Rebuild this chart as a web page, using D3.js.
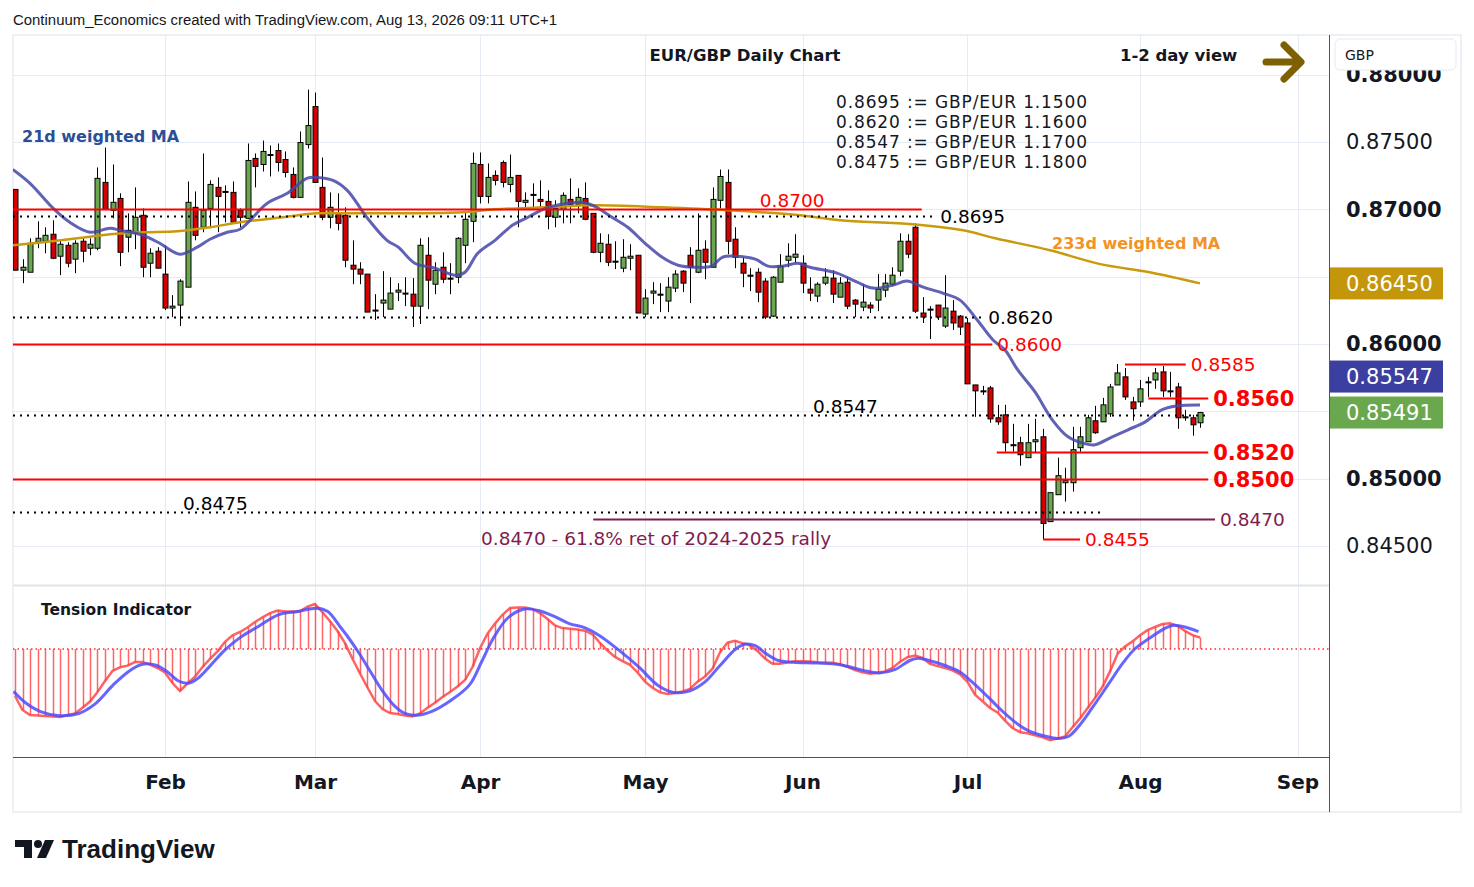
<!DOCTYPE html>
<html>
<head>
<meta charset="utf-8">
<script src="https://cdn.jsdelivr.net/npm/d3@7"></script>
<style>
  html, body { margin: 0; padding: 0; background: #fff; }
  svg { display: block; font-family: "DejaVu Sans", sans-serif; }
</style>
</head>
<body>
<svg id="chart" width="1474" height="887"></svg>
<script>
// EUR/GBP daily bars, one row per trading day from early Jan to Aug 13 - [open, high, low, close]
const ohlc = [
  [0.87148,0.87148,0.86548,0.86548],[0.86548,0.86630,0.86452,0.86570],[0.86533,0.86785,0.86533,0.86748],
  [0.86756,0.86911,0.86711,0.86785],[0.86763,0.86867,0.86674,0.86807],[0.86815,0.86919,0.86630,0.86637],
  [0.86652,0.86770,0.86511,0.86741],[0.86733,0.86756,0.86570,0.86600],[0.86630,0.86770,0.86526,0.86748],
  [0.86763,0.86793,0.86607,0.86689],[0.86711,0.86785,0.86659,0.86741],[0.86711,0.87311,0.86696,0.87230],
  [0.87200,0.87459,0.87000,0.87000],[0.86993,0.87333,0.86933,0.87052],[0.87081,0.87119,0.86578,0.86681],
  [0.86793,0.86970,0.86681,0.86844],[0.86822,0.87163,0.86704,0.86941],[0.86956,0.87007,0.86496,0.86570],
  [0.86600,0.86711,0.86496,0.86674],[0.86689,0.86719,0.86563,0.86563],[0.86519,0.86733,0.86252,0.86267],
  [0.86267,0.86363,0.86200,0.86281],[0.86289,0.86481,0.86133,0.86467],[0.86422,0.87207,0.86422,0.87052],
  [0.87015,0.87133,0.86770,0.86807],[0.86867,0.87415,0.86830,0.86993],[0.87007,0.87215,0.86867,0.87185],
  [0.87163,0.87237,0.86830,0.87096],[0.87133,0.87178,0.86904,0.87133],[0.87126,0.87207,0.86904,0.86904],
  [0.86993,0.87007,0.86867,0.86941],[0.86933,0.87489,0.86933,0.87363],[0.87378,0.87415,0.87163,0.87319],
  [0.87333,0.87511,0.87281,0.87430],[0.87407,0.87474,0.87244,0.87407],[0.87437,0.87489,0.87281,0.87348],
  [0.87370,0.87430,0.87237,0.87274],[0.87259,0.87311,0.87081,0.87089],[0.87089,0.87578,0.87089,0.87496],
  [0.87481,0.87889,0.87452,0.87622],[0.87763,0.87867,0.87200,0.87200],[0.87163,0.87385,0.86919,0.86941],
  [0.86941,0.87126,0.86859,0.87015],[0.86970,0.87119,0.86844,0.86896],[0.86956,0.87015,0.86570,0.86622],
  [0.86585,0.86770,0.86444,0.86556],[0.86556,0.86607,0.86444,0.86519],[0.86519,0.86519,0.86237,0.86237],
  [0.86252,0.86370,0.86178,0.86252],[0.86304,0.86541,0.86200,0.86326],[0.86259,0.86496,0.86259,0.86378],
  [0.86385,0.86452,0.86319,0.86400],[0.86378,0.86496,0.86281,0.86378],[0.86370,0.86489,0.86126,0.86281],
  [0.86281,0.86785,0.86148,0.86733],[0.86659,0.86793,0.86259,0.86474],[0.86444,0.86607,0.86370,0.86548],
  [0.86570,0.86681,0.86452,0.86481],[0.86489,0.86600,0.86370,0.86489],[0.86496,0.86793,0.86452,0.86785],
  [0.86733,0.86978,0.86600,0.86926],[0.86911,0.87422,0.86756,0.87341],[0.87333,0.87422,0.87044,0.87096],
  [0.87096,0.87341,0.87044,0.87237],[0.87252,0.87289,0.87178,0.87215],[0.87348,0.87363,0.87163,0.87200],
  [0.87185,0.87407,0.87126,0.87237],[0.87252,0.87252,0.86867,0.87059],[0.87052,0.87126,0.87015,0.87067],
  [0.87111,0.87193,0.87015,0.87111],[0.87074,0.87215,0.87015,0.87059],[0.87059,0.87141,0.86852,0.86948],
  [0.86941,0.87067,0.86867,0.87007],[0.87000,0.87126,0.86896,0.87104],[0.87074,0.87230,0.86896,0.87037],
  [0.87037,0.87156,0.86970,0.87089],[0.87081,0.87200,0.86919,0.86926],[0.86970,0.86970,0.86674,0.86681],
  [0.86681,0.86822,0.86607,0.86748],[0.86741,0.86815,0.86578,0.86607],[0.86615,0.86763,0.86556,0.86615],
  [0.86563,0.86778,0.86533,0.86644],[0.86637,0.86741,0.86548,0.86652],[0.86659,0.86659,0.86230,0.86230],
  [0.86222,0.86407,0.86200,0.86341],[0.86378,0.86459,0.86296,0.86393],[0.86370,0.86452,0.86237,0.86370],
  [0.86319,0.86496,0.86237,0.86422],[0.86415,0.86548,0.86385,0.86519],[0.86541,0.86548,0.86385,0.86452],
  [0.86659,0.86719,0.86304,0.86570],[0.86533,0.86970,0.86526,0.86696],[0.86704,0.86770,0.86481,0.86607],
  [0.86570,0.87163,0.86570,0.87074],[0.87067,0.87296,0.87007,0.87244],[0.87200,0.87296,0.86667,0.86763],
  [0.86778,0.86867,0.86563,0.86644],[0.86600,0.86644,0.86422,0.86526],[0.86511,0.86563,0.86393,0.86511],
  [0.86533,0.86563,0.86311,0.86385],[0.86467,0.86489,0.86185,0.86200],[0.86207,0.86504,0.86200,0.86496],
  [0.86459,0.86667,0.86459,0.86578],[0.86622,0.86748,0.86570,0.86652],[0.86644,0.86815,0.86600,0.86667],
  [0.86600,0.86659,0.86378,0.86452],[0.86407,0.86496,0.86319,0.86378],[0.86356,0.86459,0.86311,0.86444],
  [0.86452,0.86563,0.86437,0.86496],[0.86489,0.86548,0.86304,0.86370],[0.86348,0.86496,0.86348,0.86452],
  [0.86459,0.86496,0.86259,0.86281],[0.86326,0.86333,0.86200,0.86296],[0.86274,0.86444,0.86244,0.86311],
  [0.86289,0.86311,0.86230,0.86267],[0.86326,0.86519,0.86244,0.86407],[0.86400,0.86519,0.86348,0.86452],
  [0.86444,0.86570,0.86430,0.86511],[0.86541,0.86822,0.86504,0.86763],[0.86763,0.86815,0.86637,0.86667],
  [0.86867,0.86896,0.86230,0.86244],[0.86230,0.86348,0.86156,0.86200],[0.86259,0.86281,0.86037,0.86259],
  [0.86289,0.86289,0.86178,0.86200],[0.86133,0.86511,0.86119,0.86267],[0.86244,0.86326,0.86104,0.86156],
  [0.86207,0.86215,0.86067,0.86126],[0.86156,0.86193,0.85704,0.85704],[0.85696,0.85696,0.85459,0.85652],
  [0.85652,0.85689,0.85622,0.85652],[0.85674,0.85689,0.85415,0.85444],[0.85452,0.85548,0.85400,0.85422],
  [0.85474,0.85548,0.85200,0.85267],[0.85252,0.85407,0.85200,0.85252],[0.85267,0.85311,0.85096,0.85178],
  [0.85156,0.85407,0.85156,0.85267],[0.85274,0.85444,0.85193,0.85289],[0.85311,0.85370,0.84548,0.84667],
  [0.84681,0.84896,0.84681,0.84896],[0.84881,0.85156,0.84881,0.85022],[0.84970,0.85081,0.84830,0.84985],
  [0.84970,0.85385,0.84904,0.85215],[0.85230,0.85385,0.85200,0.85311],[0.85274,0.85474,0.85274,0.85452],
  [0.85430,0.85541,0.85333,0.85341],[0.85422,0.85600,0.85422,0.85548],[0.85481,0.85704,0.85459,0.85681],
  [0.85696,0.85852,0.85696,0.85785],[0.85756,0.85822,0.85585,0.85607],[0.85570,0.85607,0.85430,0.85519],
  [0.85570,0.85733,0.85533,0.85667],[0.85719,0.85756,0.85607,0.85719],[0.85733,0.85822,0.85667,0.85785],
  [0.85793,0.85837,0.85607,0.85652],[0.85652,0.85793,0.85607,0.85652],[0.85681,0.85711,0.85370,0.85452],
  [0.85459,0.85511,0.85430,0.85452],[0.85452,0.85474,0.85319,0.85400],[0.85415,0.85496,0.85378,0.85491]
];

// month ticks on the time axis (bar index of first trading day)
const monthTicks = [20, 40, 62, 84, 105, 127, 150, 171];
const monthLabels = ['Feb', 'Mar', 'Apr', 'May', 'Jun', 'Jul', 'Aug', 'Sep'];

// price axis
const priceGrid = [0.845, 0.850, 0.855, 0.860, 0.865, 0.870, 0.875, 0.880];
const priceTicks = [0.845, 0.850, 0.860, 0.870, 0.875, 0.880];

// moving averages - [bar index, price]
const ma21 = [
  [-0.3,0.87296],[2,0.87193],[5.1,0.87007],[7.3,0.86904],[10,0.86830],[12.7,0.86859],[14,0.86844],
  [17.1,0.86807],[19.3,0.86748],[22,0.86667],[24.3,0.86719],[26,0.86778],[28.3,0.86830],[30,0.86852],
  [33.6,0.87044],[36.3,0.87119],[38.9,0.87230],[40.3,0.87237],[42.4,0.87215],[44.3,0.87141],[46.9,0.86941],
  [49.6,0.86770],[51.1,0.86719],[53.3,0.86600],[56,0.86563],[58.7,0.86511],[60,0.86533],[61.7,0.86674],
  [64,0.86770],[66.3,0.86881],[68.4,0.86941],[70.7,0.87007],[72.9,0.87037],[75.6,0.87052],[77.3,0.87022],
  [79.6,0.86941],[81.7,0.86867],[84,0.86748],[86.3,0.86644],[88.4,0.86585],[90.7,0.86570],[92.9,0.86578],
  [94.3,0.86644],[96,0.86652],[98.7,0.86630],[100.4,0.86578],[102.3,0.86578],[104.4,0.86600],[106,0.86570],
  [109.6,0.86526],[112.3,0.86459],[114.4,0.86415],[117.1,0.86437],[118.9,0.86467],[121.1,0.86422],
  [123.7,0.86378],[126,0.86326],[128.3,0.86178],[130.4,0.86030],[132,0.85956],[133.7,0.85807],[136,0.85644],
  [138.3,0.85437],[140.4,0.85311],[142.7,0.85259],[144,0.85252],[146.3,0.85311],[148.4,0.85363],
  [150.7,0.85422],[152.9,0.85511],[155.1,0.85541],[158,0.85547]
];
const ma233 = [
  [-0.3,0.86733],[3.7,0.86756],[8.3,0.86785],[12.7,0.86815],[17.1,0.86830],[21.6,0.86837],[26,0.86867],
  [30,0.86904],[35.7,0.86941],[40.3,0.86970],[44.7,0.86970],[51.3,0.86970],[59.6,0.86978],[64,0.87000],
  [70.7,0.87015],[77.3,0.87030],[86.3,0.87015],[95.1,0.86993],[104.7,0.86956],[110,0.86919],[119.7,0.86889],
  [126.4,0.86844],[130.7,0.86785],[138,0.86696],[144.7,0.86593],[151.3,0.86533],[158,0.86450]
];

// tension indicator, one value per bar
const tension = [
  -47,-61,-66,-66.5,-67,-67.5,-68,-66,-64.5,-58.7,-52.5,-43,-32,-22,-18.3,-16.6,-13,-13,-15.6,-19,
  -23.5,-34,-42,-34.5,-27.7,-18,-9.8,-2.3,7.2,13.7,17,21.5,27,31.6,35.9,38.5,37.5,37.5,37.8,42.4,
  45,36.8,27.7,18,5.9,-9.8,-24.5,-38.5,-52,-60,-64,-65,-66.5,-67.5,-64.5,-58.7,-53.8,-48,-43,-37.5,
  -31,-18,0.7,15.3,25.4,34.2,41,41.4,41.4,40,35.9,30,23.5,20.9,20.2,19.6,18.3,14.7,6,-1.6,
  -7.9,-12.2,-15.8,-23.4,-32.6,-38.8,-43.4,-45,-44,-42.4,-40,-32.6,-27.6,-19.7,-3.3,6.3,8.2,5.9,3.6,-2,
  -9.5,-14.8,-14.8,-13.5,-12.2,-12.2,-12.5,-13.2,-13.5,-13.8,-15.1,-17.8,-21,-23.4,-24.7,-23.7,-22.4,-19,-12.8,-8.2,
  -6.6,-8.9,-14.8,-17.1,-19,-21.4,-25.3,-32.9,-45.7,-52.3,-59,-63.5,-71.7,-79,-83.2,-84.2,-86.2,-88.2,-91.1,-89.5,
  -87.5,-78.3,-69.4,-59.2,-49,-37.8,-22.4,-4.9,2.6,7.6,13.8,18.8,22,25,25.7,23,18.1,13.8,11.5
];
// signal line - [bar index, value]
const signal = [
  [-0.2,-42.4],[1.4,-53.8],[3.4,-62.6],[6,-66.8],[8.5,-64.5],[10.6,-55.4],[13.1,-35.9],[15.2,-22.2],
  [17,-15.3],[18.8,-16.3],[20.3,-22.8],[21.8,-32],[23.1,-34.2],[24.4,-29.3],[25.9,-17.9],[27.9,-1.6],
  [30,11.4],[32.5,22.8],[35.1,34.2],[37.7,37.5],[40.2,40.8],[41.7,37.5],[43.3,22.8],[44.3,13],[45.8,-3.3],
  [47.4,-22.8],[48.9,-40.8],[50.4,-55.4],[51.9,-64.2],[53.5,-66.2],[55.5,-62.6],[58.1,-51.5],[60.6,-35.9],
  [62.2,-13],[63.7,9.8],[65.7,31],[67.8,39.8],[69.8,38.5],[71.9,32.6],[73.9,25.4],[76,21.2],[78,13.1],
  [80.6,-1.6],[83.2,-18.1],[85.7,-36.2],[87.8,-43.4],[89.9,-42.1],[92,-32.9],[94,-16.5],[96.1,0],[97.4,4.9],
  [98.7,3.3],[100.2,-4.9],[101.8,-11.5],[103.8,-13.2],[106.9,-14.1],[110,-15.8],[113.1,-21.4],[115.2,-24],
  [117.3,-20.7],[119.3,-11.5],[120.4,-9.2],[121.9,-11.5],[124,-16.5],[126,-23],[127.6,-32.9],[129.7,-47.7],
  [131.7,-62.5],[133.8,-75.7],[135.3,-82.3],[137.4,-87.2],[139,-89.5],[140.5,-87.2],[142,-75.7],[143.6,-59.2],
  [145.7,-36.2],[147.8,-13.2],[149.3,0],[151.4,11.5],[153.5,21.4],[154.5,23.7],[156,22],[157.8,17.4]
];

// horizontal levels drawn on the chart, with the bar range each line covers
const levelValues = [0.8700, 0.8695, 0.8620, 0.8600, 0.8585, 0.8560, 0.8547, 0.8520, 0.8500, 0.8475, 0.8470, 0.8455];
const levelFrom   = [-1, -1, -1, -1, 148, 151.1, -1, 130.9, -1, -1, 77.1, 137.1];
const levelTo     = [120.9, 122.7, 129.1, 130.3, 156.1, 159.1, 159.3, 159.1, 159.1, 145.3, 160, 142];

const conversions = [
  '0.8695 := GBP/EUR 1.1500',
  '0.8620 := GBP/EUR 1.1600',
  '0.8547 := GBP/EUR 1.1700',
  '0.8475 := GBP/EUR 1.1800'
];

// ---- layout
const plot = { left: 13, right: 1329, top: 35, mainBottom: 585, indTop: 586, indBottom: 757, axisBottom: 812, outerRight: 1461 };

const svg = d3.select('#chart');

const x = d3.scaleLinear().domain([0, 158]).range([15, 1200]);
const y = d3.scaleLinear().domain([0.845, 0.875]).range([546, 142]);
const yInd = d3.scaleLinear().domain([-100, 60]).range([749, 589]);

const defs = svg.append('defs');
defs.append('clipPath').attr('id', 'clipMain').append('rect')
    .attr('x', plot.left).attr('y', plot.top)
    .attr('width', plot.right - plot.left).attr('height', plot.mainBottom - plot.top);
defs.append('clipPath').attr('id', 'clipInd').append('rect')
    .attr('x', plot.left).attr('y', plot.indTop)
    .attr('width', plot.right - plot.left).attr('height', plot.indBottom - plot.indTop);

// header line
svg.append('text')
    .attr('x', 13).attr('y', 25)
    .attr('font-family', '"Liberation Sans", sans-serif')
    .attr('font-size', 15.5).attr('fill', '#131722')
    .attr('textLength', 544).attr('lengthAdjust', 'spacingAndGlyphs')
    .text('Continuum_Economics created with TradingView.com, Aug 13, 2026 09:11 UTC+1');

// outer frame
svg.append('rect')
    .attr('x', plot.left).attr('y', plot.top)
    .attr('width', plot.outerRight - plot.left).attr('height', plot.axisBottom - plot.top)
    .attr('fill', 'none').attr('stroke', '#edf0f4').attr('stroke-width', 2);

// grid
const grid = svg.append('g');
grid.selectAll('.hgrid').data(priceGrid).enter().append('line')
    .attr('x1', plot.left).attr('x2', plot.right)
    .attr('y1', d => Math.round(y(d)) + 0.5).attr('y2', d => Math.round(y(d)) + 0.5)
    .attr('stroke', '#e6ecf3');
grid.selectAll('.vgrid').data(monthTicks).enter().append('line')
    .attr('x1', d => Math.round(x(d)) + 0.5).attr('x2', d => Math.round(x(d)) + 0.5)
    .attr('y1', plot.top).attr('y2', plot.indBottom)
    .attr('stroke', '#e6ecf3');

// pane separator
svg.append('line')
    .attr('x1', plot.left).attr('x2', plot.right)
    .attr('y1', plot.mainBottom + 0.5).attr('y2', plot.mainBottom + 0.5)
    .attr('stroke', '#e0e3eb').attr('stroke-width', 2);

// ---- candles
const main = svg.append('g').attr('clip-path', 'url(#clipMain)');
const candles = main.selectAll('.candle').data(ohlc).enter().append('g').attr('class', 'candle');

candles.append('line')
    .attr('x1', (d, i) => Math.round(x(i)) + 0.5).attr('x2', (d, i) => Math.round(x(i)) + 0.5)
    .attr('y1', d => y(d[1])).attr('y2', d => y(d[2]))
    .attr('stroke', '#000').attr('stroke-width', 1);

candles.append('rect')
    .attr('x', (d, i) => Math.round(x(i)) - 2)
    .attr('width', 5)
    .attr('y', d => y(Math.max(d[0], d[3])))
    .attr('height', d => Math.max(1, Math.abs(y(d[0]) - y(d[3]))))
    .attr('fill', d => d[3] > d[0] ? '#6aa84f' : d[3] < d[0] ? '#d50000' : '#000')
    .attr('stroke', '#000').attr('stroke-width', 1);

// ---- moving averages
const maLine = d3.line()
    .x(d => x(d[0])).y(d => y(d[1]))
    .curve(d3.curveCatmullRom.alpha(0.5));

main.append('path').datum(ma233).attr('d', maLine)
    .attr('fill', 'none').attr('stroke', '#c99a0c').attr('stroke-width', 2.5);
main.append('path').datum(ma21).attr('d', maLine)
    .attr('fill', 'none').attr('stroke', '#4545a8').attr('stroke-opacity', 0.85).attr('stroke-width', 3);

// ---- levels
const levelLook = [
  { stroke: '#ff0000', dash: null, text: '0.8700', fill: '#ff0000', size: 18.5, weight: 'normal', place: 'above', at: 99.3 },
  { stroke: '#000', dash: '2 5', text: '0.8695', fill: '#000', size: 18.5, weight: 'normal', place: 'end' },
  { stroke: '#000', dash: '2 5', text: '0.8620', fill: '#000', size: 18.5, weight: 'normal', place: 'end' },
  { stroke: '#ff0000', dash: null, text: '0.8600', fill: '#ff0000', size: 18.5, weight: 'normal', place: 'end' },
  { stroke: '#ff0000', dash: null, text: '0.8585', fill: '#ff0000', size: 18.5, weight: 'normal', place: 'end' },
  { stroke: '#ff0000', dash: null, text: '0.8560', fill: '#ff0000', size: 21, weight: 'bold', place: 'end' },
  { stroke: '#000', dash: '2 5', text: '0.8547', fill: '#000', size: 18.5, weight: 'normal', place: 'above', at: 106.4 },
  { stroke: '#ff0000', dash: null, text: '0.8520', fill: '#ff0000', size: 21, weight: 'bold', place: 'end' },
  { stroke: '#ff0000', dash: null, text: '0.8500', fill: '#ff0000', size: 21, weight: 'bold', place: 'end' },
  { stroke: '#000', dash: '2 5', text: '0.8475', fill: '#000', size: 18.5, weight: 'normal', place: 'above', at: 22.4 },
  { stroke: '#7f1d4f', dash: null, text: '0.8470', fill: '#7f1d4f', size: 18.5, weight: 'normal', place: 'end' },
  { stroke: '#ff0000', dash: null, text: '0.8455', fill: '#ff0000', size: 18.5, weight: 'normal', place: 'end' }
];
const levels = levelValues.map((v, i) => Object.assign({ v, from: levelFrom[i], to: levelTo[i] }, levelLook[i]));

const lv = svg.append('g');
levels.forEach(l => {
  const x1 = Math.max(plot.left, x(l.from));
  const x2 = x(l.to);
  const yy = Math.round(y(l.v)) + 0.5;
  lv.append('line')
      .attr('x1', x1).attr('x2', x2).attr('y1', yy).attr('y2', yy)
      .attr('stroke', l.stroke).attr('stroke-width', 2)
      .attr('stroke-dasharray', l.dash);
  const t = lv.append('text')
      .attr('font-size', l.size).attr('font-weight', l.weight).attr('fill', l.fill)
      .text(l.text);
  if (l.place === 'end') {
    t.attr('x', x2 + 5).attr('y', yy).attr('dy', '0.34em');
  } else {
    t.attr('x', x(l.at)).attr('y', yy - 3);
  }
});

// 61.8% retracement note
lv.append('text')
    .attr('x', 481).attr('y', y(0.8470) + 26)
    .attr('font-size', 18.5).attr('fill', '#7f1d4f')
    .text('0.8470 - 61.8% ret of 2024-2025 rally');

// ---- titles and notes
svg.append('text')
    .attr('x', 745).attr('y', 61).attr('text-anchor', 'middle')
    .attr('font-size', 16.5).attr('font-weight', 'bold').attr('fill', '#131722')
    .text('EUR/GBP Daily Chart');
svg.append('text')
    .attr('x', 1120).attr('y', 61)
    .attr('font-size', 16.5).attr('font-weight', 'bold').attr('fill', '#131722')
    .text('1-2 day view');

// view arrow
svg.append('path')
    .attr('d', 'M1266,62 H1298 M1284,45 L1301,62 L1284,79')
    .attr('fill', 'none').attr('stroke', '#7f6000').attr('stroke-width', 7)
    .attr('stroke-linecap', 'round').attr('stroke-linejoin', 'round');

svg.append('g').selectAll('text').data(conversions).enter().append('text')
    .attr('x', 836).attr('y', (d, i) => 108 + i * 20)
    .attr('font-size', 17).attr('fill', '#131722')
    .attr('textLength', 251).attr('lengthAdjust', 'spacing')
    .text(d => d);

svg.append('text')
    .attr('x', 22).attr('y', 142)
    .attr('font-size', 16).attr('font-weight', 'bold').attr('fill', '#2a4f96')
    .text('21d weighted MA');
svg.append('text')
    .attr('x', 1052).attr('y', 249)
    .attr('font-size', 16).attr('font-weight', 'bold').attr('fill', '#f39325')
    .text('233d weighted MA');

// ---- tension indicator
const ind = svg.append('g').attr('clip-path', 'url(#clipInd)');
ind.append('line')
    .attr('x1', plot.left).attr('x2', plot.right)
    .attr('y1', yInd(0)).attr('y2', yInd(0))
    .attr('stroke', '#ff2a2a').attr('stroke-width', 1.5).attr('stroke-dasharray', '1.5 3');
ind.selectAll('.hatch').data(tension).enter().append('line')
    .attr('x1', (d, i) => Math.round(x(i)) + 0.5).attr('x2', (d, i) => Math.round(x(i)) + 0.5)
    .attr('y1', yInd(0)).attr('y2', d => yInd(d))
    .attr('stroke', '#ff3030').attr('stroke-opacity', 0.75).attr('stroke-width', 1.5);
ind.append('path').datum(tension)
    .attr('d', d3.line().x((d, i) => x(i)).y(d => yInd(d)))
    .attr('fill', 'none').attr('stroke', '#ff3b3b').attr('stroke-opacity', 0.8).attr('stroke-width', 2.5);
ind.append('path').datum(signal)
    .attr('d', d3.line().x(d => x(d[0])).y(d => yInd(d[1])).curve(d3.curveCatmullRom.alpha(0.5)))
    .attr('fill', 'none').attr('stroke', '#4b4bff').attr('stroke-opacity', 0.85).attr('stroke-width', 3);

svg.append('text')
    .attr('x', 41).attr('y', 615)
    .attr('font-size', 15.5).attr('font-weight', 'bold').attr('fill', '#131722')
    .text('Tension Indicator');

// ---- axes
const yAxis = svg.append('g')
    .attr('transform', `translate(${plot.right},0)`)
    .call(d3.axisRight(y).tickValues(priceTicks).tickSize(0).tickPadding(17).tickFormat(d3.format('.5f')));
yAxis.select('.domain').remove();
yAxis.selectAll('text')
    .attr('font-family', '"DejaVu Sans", sans-serif')
    .attr('font-size', 21).attr('fill', '#131722')
    .attr('font-weight', d => Math.round(d * 1000) % 10 === 0 ? 'bold' : 'normal');

const xAxis = svg.append('g')
    .attr('transform', `translate(0,${plot.indBottom})`)
    .call(d3.axisBottom(x).tickValues(monthTicks).tickSize(0).tickPadding(18)
        .tickFormat((d, i) => monthLabels[i]));
xAxis.select('.domain').remove();
xAxis.selectAll('text')
    .attr('font-family', '"DejaVu Sans", sans-serif')
    .attr('font-size', 20).attr('font-weight', 'bold').attr('fill', '#131722');

// axis borders
svg.append('line')
    .attr('x1', plot.right + 0.5).attr('x2', plot.right + 0.5)
    .attr('y1', plot.top).attr('y2', plot.axisBottom)
    .attr('stroke', '#50535e');
svg.append('line')
    .attr('x1', plot.left).attr('x2', plot.right)
    .attr('y1', plot.indBottom + 0.5).attr('y2', plot.indBottom + 0.5)
    .attr('stroke', '#50535e');

// currency badge over the top label
svg.append('rect')
    .attr('x', 1335).attr('y', 39).attr('width', 121).attr('height', 31).attr('rx', 5)
    .attr('fill', '#fff').attr('stroke', '#e6e9ef');
svg.append('text')
    .attr('x', 1345).attr('y', 60)
    .attr('font-size', 14).attr('fill', '#131722')
    .text('GBP');

// last-value boxes on the price scale
const lastClose = ohlc[ohlc.length - 1][3];
const lastMa21 = ma21[ma21.length - 1][1];
const lastMa233 = ma233[ma233.length - 1][1];
const boxH = 32;
const closeTop = y(lastClose) - boxH / 2;
const boxes = [
  { v: lastMa233, top: y(lastMa233) - boxH / 2, fill: '#c4960c' },
  { v: lastMa21, top: closeTop - boxH - 4, fill: '#3b3f9f' },   // pushed up so it does not cover the close box
  { v: lastClose, top: closeTop, fill: '#6aa84f' }
];
const bx = svg.append('g');
boxes.forEach(b => {
  bx.append('rect')
      .attr('x', plot.right + 1).attr('y', b.top)
      .attr('width', 113).attr('height', boxH)
      .attr('fill', b.fill);
  bx.append('text')
      .attr('x', 1346).attr('y', b.top + boxH / 2).attr('dy', '0.36em')
      .attr('font-size', 21).attr('fill', '#fff')
      .text(d3.format('.5f')(b.v));
});

// TradingView mark
const logo = svg.append('g').attr('fill', '#131722');
logo.append('path').attr('d', 'M15,840 H32 V858 H24 V847 H15 Z');
logo.append('circle').attr('cx', 38).attr('cy', 844).attr('r', 4);
logo.append('path').attr('d', 'M45,840 H54 L46,858 H37 Z');
svg.append('text')
    .attr('x', 62).attr('y', 858)
    .attr('font-family', '"Liberation Sans", sans-serif')
    .attr('font-size', 26).attr('font-weight', 'bold').attr('fill', '#131722')
    .text('TradingView');
</script>
</body>
</html>
